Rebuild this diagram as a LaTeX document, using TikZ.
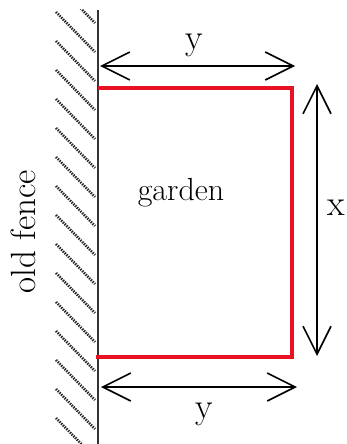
\documentclass[tikz,border=0pt]{standalone}
\usetikzlibrary{arrows.meta}
\definecolor{gardenred}{RGB}{232,18,36}

\begin{document}
\begin{tikzpicture}[
    x=1pt,
    y=-1pt,
    fenceline/.style={
        draw=black!80,
        line width=1.6pt
    },
    hatch/.style={
        draw=black!85,
        line width=2.6pt,
        dash pattern=on 1.4pt off 1.1pt
    },
    plot/.style={
        draw=gardenred,
        line width=4pt
    },
    dim/.style={{Straight Barb[length=28pt,width=28pt]}-{Straight Barb[length=28pt,width=28pt]}, line width=1.6pt, draw=black},
    lbl/.style={
        font=\fontsize{36}{42}\selectfont,
        inner sep=0pt,
        anchor=base
    }
]
\useasboundingbox (0,0) rectangle (347,444);

% Fence with hatching
\begin{scope}
    \clip (50,10) rectangle (96,444);
    \foreach \k in {-1,...,15}
        \draw[hatch] (56,{12+29*\k}) -- ++(39,40);
\end{scope}
\coordinate (fencetop) at (98,10);
\coordinate (fencebot) at (98,444);
\draw[fenceline] (fencetop) -- (fencebot);

% Garden plot (three sides)
\coordinate (plotnw) at (98,88);
\coordinate (plotne) at (292,88);
\coordinate (plotse) at (292,357);
\coordinate (plotsw) at (96,357);
\draw[plot] (plotnw) -- (plotne) -- (plotse) -- (plotsw);

% Dimension arrows
\coordinate (topl) at (100,66);
\coordinate (topr) at (295,66);
\coordinate (botl) at (101,387);
\coordinate (botr) at (297,387);
\coordinate (sidet) at (317,84);
\coordinate (sideb) at (317,356);
\draw[dim] (topl) -- (topr);
\draw[dim] (botl) -- (botr);
\draw[dim] (sidet) -- (sideb);

% Labels
\node[lbl] (ytop) at (194,50) {y};
\node[lbl] (ybot) at (204,418) {y};
\node[lbl] (xside) at (336,215) {x};
\node[lbl, font=\fontsize{32}{38}\selectfont] (garden) at (181,200) {garden};
\node[lbl, font=\fontsize{35}{40}\selectfont, rotate=90] (fence) at (35,232) {old fence};

\end{tikzpicture}
\end{document}
